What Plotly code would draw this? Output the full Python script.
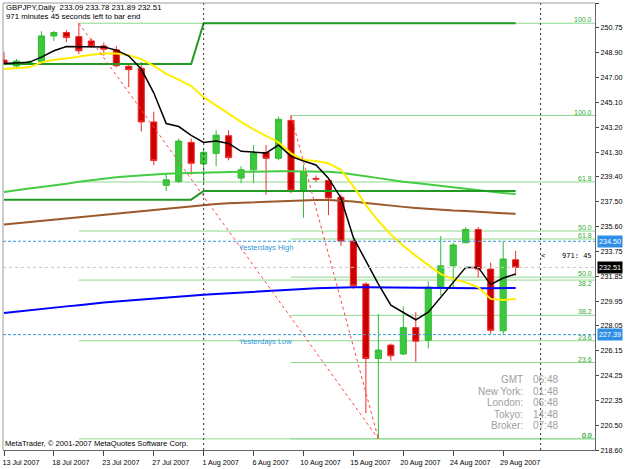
import plotly.graph_objects as go

# ---------------- data ----------------
dates = ["13 Jul 2007", "15 Jul 2007", "16 Jul 2007", "17 Jul 2007", "18 Jul 2007", "19 Jul 2007",
         "20 Jul 2007", "22 Jul 2007", "23 Jul 2007", "24 Jul 2007", "25 Jul 2007", "26 Jul 2007",
         "27 Jul 2007", "29 Jul 2007", "30 Jul 2007", "31 Jul 2007", "1 Aug 2007", "2 Aug 2007",
         "3 Aug 2007", "5 Aug 2007", "6 Aug 2007", "7 Aug 2007", "8 Aug 2007", "9 Aug 2007",
         "10 Aug 2007", "12 Aug 2007", "13 Aug 2007", "14 Aug 2007", "15 Aug 2007", "16 Aug 2007",
         "17 Aug 2007", "19 Aug 2007", "20 Aug 2007", "21 Aug 2007", "22 Aug 2007", "23 Aug 2007",
         "24 Aug 2007", "26 Aug 2007", "27 Aug 2007", "28 Aug 2007", "29 Aug 2007", "30 Aug 2007"]

opens = [248.30, 247.85, 248.08, 248.18, 250.14, 250.40, 250.09, 249.76, 249.38, 249.08,
         247.83, 247.68, 243.59, 238.76, 239.06, 242.03, 240.39, 241.20, 242.54, 239.31,
         239.94, 241.27, 240.82, 243.71, 238.35, 239.29, 239.13, 237.85, 234.52, 231.24,
         225.57, 226.59, 225.91, 227.92, 226.96, 231.00, 232.63, 234.39, 235.40, 232.38,
         227.68, 233.09]
highs = [248.91, 248.38, 248.30, 250.50, 250.52, 250.57, 251.11, 249.94, 249.64, 249.38,
         248.00, 248.15, 244.37, 239.61, 242.33, 242.33, 241.58, 242.96, 242.96, 240.22,
         241.83, 241.83, 244.00, 244.08, 240.31, 239.51, 239.31, 238.05, 234.64, 231.37,
         228.97, 226.71, 229.53, 229.10, 231.45, 234.90, 234.39, 235.58, 235.58, 232.88,
         234.50, 233.78]
lows = [247.93, 247.70, 247.93, 248.08, 249.76, 249.66, 248.76, 249.26, 248.63, 247.75,
        246.24, 242.86, 240.29, 238.33, 238.93, 239.56, 238.90, 240.22, 240.67, 238.93,
        238.93, 238.05, 240.67, 238.17, 236.28, 239.01, 236.49, 234.15, 230.87, 221.41,
        219.45, 225.40, 225.83, 225.32, 226.33, 230.37, 230.87, 234.36, 231.75, 227.46,
        227.39, 231.89]
closes = [248.05, 248.23, 248.15, 250.14, 250.40, 250.02, 249.01, 249.38, 249.13, 247.87,
          247.57, 243.59, 240.65, 239.18, 242.13, 240.44, 241.27, 242.58, 240.87, 239.94,
          241.20, 240.82, 243.79, 238.35, 239.81, 239.23, 237.80, 234.52, 231.12, 225.57,
          226.21, 225.78, 227.92, 226.89, 231.00, 232.63, 234.22, 235.40, 232.38, 227.72,
          233.15, 232.51]

ma_black = [248.05, 248.08, 248.13, 248.53, 249.01, 249.34, 249.34, 249.32, 249.29, 249.06,
            248.61, 247.62, 245.81, 243.47, 243.24, 242.56, 242.03, 242.13, 241.95, 241.35,
            241.27, 241.22, 241.83, 240.97, 240.62, 240.31, 239.31, 237.80, 234.77, 233.03,
            231.24, 229.63, 229.10, 228.52, 229.10, 230.24, 231.45, 232.51, 232.51, 231.20,
            231.70, 232.00]
ma_yellow = [247.62, 247.68, 247.75, 248.13, 248.33, 248.43, 248.58, 248.70, 248.81, 248.81,
             248.68, 248.38, 247.87, 247.25, 246.81, 246.32, 245.48, 244.85, 244.22, 243.59,
             243.03, 242.54, 242.03, 241.20, 240.69, 240.62, 240.44, 239.94, 238.68, 237.25,
             236.04, 235.02, 234.15, 233.39, 232.71, 232.00, 231.62, 231.37, 230.99, 230.11,
             230.03, 230.11]
ma_green = [238.25, 238.40, 238.52, 238.63, 238.74, 238.89, 239.04, 239.16, 239.27, 239.38,
            239.46, 239.54, 239.61, 239.65, 239.69, 239.72, 239.76, 239.76, 239.80, 239.80,
            239.80, 239.84, 239.84, 239.84, 239.84, 239.84, 239.80, 239.72, 239.61, 239.46,
            239.31, 239.16, 239.04, 238.93, 238.82, 238.70, 238.59, 238.48, 238.36, 238.29,
            238.17, 238.10]
ma_brown = [235.78, 235.87, 235.97, 236.06, 236.16, 236.25, 236.35, 236.44, 236.53, 236.63,
            236.72, 236.81, 236.91, 237.00, 237.09, 237.19, 237.28, 237.34, 237.40, 237.44,
            237.49, 237.53, 237.57, 237.61, 237.63, 237.65, 237.65, 237.61, 237.53, 237.42,
            237.31, 237.19, 237.12, 237.04, 236.96, 236.91, 236.85, 236.81, 236.78, 236.70,
            236.64, 236.59]
ma_blue = [229.03, 229.14, 229.25, 229.35, 229.44, 229.54, 229.63, 229.75, 229.84, 229.91,
           229.99, 230.06, 230.14, 230.22, 230.29, 230.37, 230.43, 230.49, 230.55, 230.61,
           230.68, 230.73, 230.78, 230.83, 230.87, 230.92, 230.96, 230.98, 230.99, 230.99,
           230.98, 230.96, 230.95, 230.93, 230.92, 230.92, 230.92, 230.93, 230.93, 230.93,
           230.94, 230.94]
prev_month_high = [248.00, 248.00, 248.00, 248.00, 248.00, 248.00, 248.00, 248.00, 248.00, 248.00,
                   248.00, 248.00, 248.00, 248.00, 248.00, 248.00, 251.11, 251.11, 251.11, 251.11,
                   251.11, 251.11, 251.11, 251.11, 251.11, 251.11, 251.11, 251.11, 251.11, 251.11,
                   251.11, 251.11, 251.11, 251.11, 251.11, 251.11, 251.11, 251.11, 251.11, 251.11,
                   251.11, 251.11]
prev_month_low = [237.67, 237.67, 237.67, 237.67, 237.67, 237.67, 237.67, 237.67, 237.67, 237.67,
                  237.67, 237.67, 237.67, 237.67, 237.67, 237.67, 238.33, 238.33, 238.33, 238.33,
                  238.33, 238.33, 238.33, 238.33, 238.33, 238.33, 238.33, 238.33, 238.33, 238.33,
                  238.33, 238.33, 238.33, 238.33, 238.33, 238.33, 238.33, 238.33, 238.33, 238.33,
                  238.33, 238.33]

fib_levels = [0.0, 23.6, 38.2, 50.0, 61.8, 100.0]
fib1 = {"start": 6, "end": 30, "high": 251.11, "low": 219.45}
fib2 = {"start": 23, "end": 30, "high": 244.08, "low": 219.45}

yesterday_high = 234.50
yesterday_low = 227.39
bid = 232.51
separator_bars = [16, 43]

y_ticks = [252.65, 250.75, 248.90, 247.00, 245.10, 243.20, 241.30, 239.40, 237.50, 235.60,
           233.75, 231.85, 229.95, 228.05, 226.15, 224.25, 222.35, 220.50, 218.60]

clock_names = ["GMT", "New York:", "London:", "Tokyo:", "Broker:"]
clock_times = ["06:48", "01:48", "06:48", "14:48", "07:48"]

# ---------------- layout helpers ----------------
W, H = 625, 469
ML, MR, MT, MB = 2, 30, 3, 15
PW, PH = W - ML - MR, H - MT - MB
X0, X1 = -0.08, 47.36
Y0, Y1 = 218.60, 252.65
FONT = "Liberation Sans, Arial, sans-serif"


def px(x):
    return (x - ML) / PW


def py(y):
    return (H - MB - y) / PH


idx = list(range(len(dates)))

fig = go.Figure()

fig.add_trace(go.Candlestick(
    x=idx, open=opens, high=highs, low=lows, close=closes,
    increasing=dict(fillcolor="#3cc83c", line=dict(color="#33bb33", width=1)),
    decreasing=dict(fillcolor="#cc0000", line=dict(color="#ee2a2a", width=1)),
    whiskerwidth=0, showlegend=False, hoverinfo="skip"))

line_specs = [
    (ma_brown, "#9c5a2c", 2),
    (ma_blue, "#0000ff", 2),
    (ma_green, "#44cc44", 2),
    (prev_month_high, "#229922", 2),
    (prev_month_low, "#229922", 2),
    (ma_yellow, "#ffee00", 2),
    (ma_black, "#000000", 1.5),
]
for vals, col, w in line_specs:
    fig.add_trace(go.Scatter(x=idx, y=vals, mode="lines", line=dict(color=col, width=w),
                             showlegend=False, hoverinfo="skip"))

# fib trend (diagonal) lines
for fb in (fib1, fib2):
    fig.add_trace(go.Scatter(x=[fb["start"], fb["end"]], y=[fb["high"], fb["low"]], mode="lines",
                             line=dict(color="#ff4444", width=1, dash="3px,3px"),
                             showlegend=False, hoverinfo="skip"))

shapes = []
annotations = []

# fib level lines + labels
for n, fb in enumerate((fib1, fib2)):
    rng = fb["high"] - fb["low"]
    for lv in fib_levels:
        v = fb["low"] + rng * lv / 100.0
        shapes.append(dict(type="line", xref="x", yref="y", x0=fb["start"], x1=X1, y0=v, y1=v,
                           line=dict(color="#8ed88e", width=1), layer="below"))
        below = (n == 0 and lv == 38.2)   # avoid collision with the other 50.0 label
        annotations.append(dict(xref="paper", yref="y", x=px(593), y=v, xanchor="right",
                                yanchor="top" if below else "bottom", text=f"{lv:.1f}",
                                showarrow=False,
                                font=dict(family=FONT, size=7, color="#33aa33"),
                                borderpad=0, yshift=1 if below else -1))

# yesterday high/low dashed lines
for v, lab in ((yesterday_high, "Yesterdays High"), (yesterday_low, "Yesterdays Low")):
    shapes.append(dict(type="line", xref="paper", yref="y", x0=0, x1=1, y0=v, y1=v,
                       line=dict(color="#3399dd", width=1, dash="3px,2px")))
    annotations.append(dict(xref="paper", yref="y", x=px(237), y=v, xanchor="left", yanchor="top",
                            text=lab, showarrow=False, borderpad=0, yshift=-1,
                            font=dict(family=FONT, size=7.5, color="#3399dd")))

# bid line
shapes.append(dict(type="line", xref="paper", yref="y", x0=0, x1=1, y0=bid, y1=bid,
                   line=dict(color="#c8c8c8", width=1, dash="dot")))

# month separators
for b in separator_bars:
    shapes.append(dict(type="line", xref="x", yref="paper", x0=b, x1=b, y0=0, y1=1,
                       line=dict(color="#333333", width=1, dash="2px,3px")))

# borders (top and left)
shapes.append(dict(type="line", xref="paper", yref="paper", x0=0, x1=1, y0=1, y1=1,
                   line=dict(color="#9a9a9a", width=1)))
shapes.append(dict(type="line", xref="paper", yref="paper", x0=0, x1=0, y0=0, y1=1,
                   line=dict(color="#9a9a9a", width=1)))

# header texts
header = f"GBPJPY,Daily  {opens[-1]:.2f} {highs[-1]:.2f} {lows[-1]:.2f} {closes[-1]:.2f}"
annotations.append(dict(xref="paper", yref="paper", x=px(4), y=py(7.5), xanchor="left",
                        yanchor="middle", text=header, showarrow=False, borderpad=0,
                        font=dict(family=FONT, size=7.8, color="#000000")))
annotations.append(dict(xref="paper", yref="paper", x=px(4), y=py(16.5), xanchor="left",
                        yanchor="middle", text="971 minutes 45 seconds left to bar end",
                        showarrow=False, borderpad=0,
                        font=dict(family=FONT, size=7.8, color="#000000")))
annotations.append(dict(xref="paper", yref="paper", x=px(3), y=py(447), xanchor="left",
                        yanchor="middle", text="MetaTrader, © 2001-2007 MetaQuotes Software Corp.",
                        showarrow=False, borderpad=0,
                        font=dict(family=FONT, size=7.6, color="#000000")))
annotations.append(dict(xref="paper", yref="paper", x=px(593), y=py(258), xanchor="right",
                        yanchor="middle", text="<    971: 45", showarrow=False, borderpad=0,
                        font=dict(family="DejaVu Sans Mono, monospace", size=7, color="#000000")))

# clock panel
for k, (nm, tm) in enumerate(zip(clock_names, clock_times)):
    yy = 383 + k * 11.6
    annotations.append(dict(xref="paper", yref="paper", x=px(524), y=py(yy), xanchor="right",
                            yanchor="middle", text=nm, showarrow=False, borderpad=0,
                            font=dict(family=FONT, size=10, color="#a0a0a0")))
    annotations.append(dict(xref="paper", yref="paper", x=px(532), y=py(yy), xanchor="left",
                            yanchor="middle", text=tm, showarrow=False, borderpad=0,
                            font=dict(family=FONT, size=10, color="#a0a0a0")))

# price boxes on the axis
for v, bg in ((yesterday_high, "#2f8fe6"), (bid, "#000000"), (yesterday_low, "#2f8fe6")):
    annotations.append(dict(xref="paper", yref="y", x=px(597), y=v, xanchor="left",
                            yanchor="middle", text=f"{v:.2f}", showarrow=False,
                            bgcolor=bg, borderpad=1, width=22,
                            font=dict(family=FONT, size=7.2, color="#ffffff")))

fig.update_layout(
    width=W, height=H,
    margin=dict(l=ML, r=MR, t=MT, b=MB, pad=0),
    paper_bgcolor="#ffffff", plot_bgcolor="#ffffff",
    showlegend=False,
    shapes=shapes, annotations=annotations,
    xaxis=dict(range=[X0, X1], type="linear", rangeslider=dict(visible=False),
               tickvals=idx[::4], ticktext=dates[::4], ticks="outside", ticklen=5,
               tickcolor="#444444", showline=True, linecolor="#666666", showgrid=False,
               zeroline=False, ticklabelshift=17,
               tickfont=dict(family=FONT, size=7.2, color="#000000")),
    yaxis=dict(range=[Y0, Y1], side="right", tickvals=y_ticks,
               ticktext=[f"{v:.2f}" for v in y_ticks], ticks="outside", ticklen=3,
               tickcolor="#444444", showline=True, linecolor="#666666", showgrid=False,
               zeroline=False, tickfont=dict(family=FONT, size=7.2, color="#000000")),
)

fig.write_html("out.html")
